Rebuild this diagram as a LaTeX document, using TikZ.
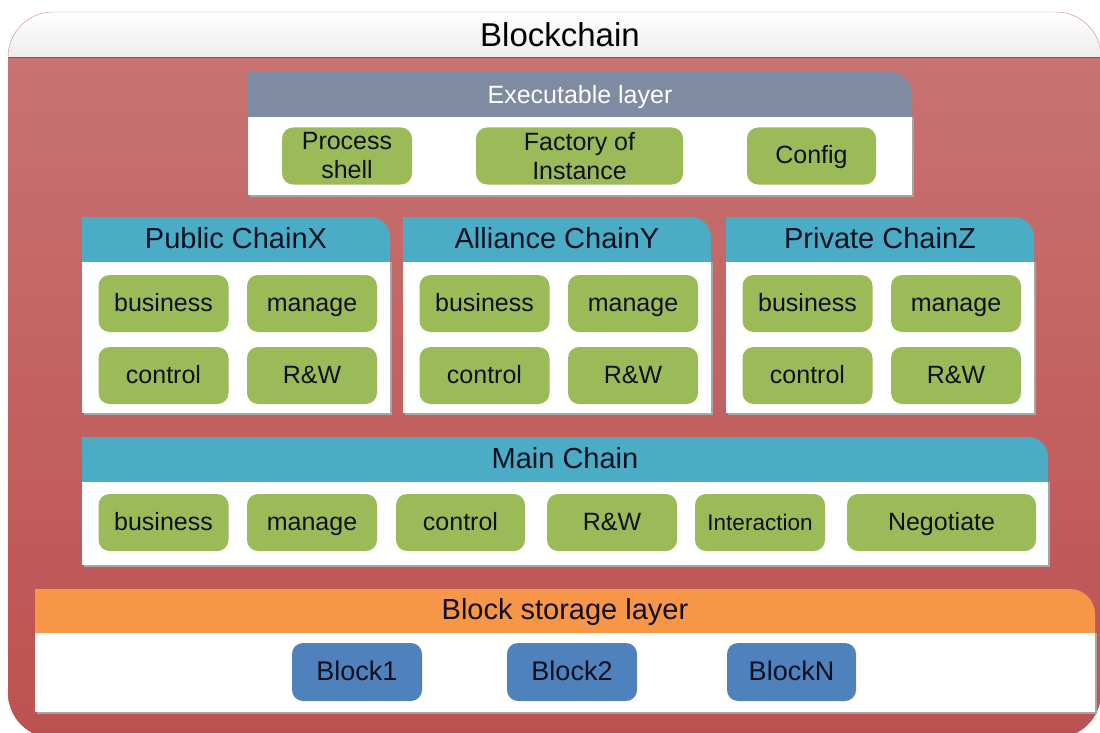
\documentclass[tikz,border=0pt]{standalone}
\usepackage{fontspec}
\setmainfont{Liberation Sans}
\usepackage{xcolor}
\usetikzlibrary{calc,shapes,positioning}

\definecolor{redtop}{HTML}{C87272}
\definecolor{redbot}{HTML}{BD5151}
\definecolor{rim}{HTML}{C3868B}
\definecolor{slate}{HTML}{7F8AA3}
\definecolor{tealhead}{HTML}{4BACC6}
\definecolor{orangehead}{HTML}{F79646}
\definecolor{leaf}{HTML}{9BBB59}
\definecolor{blockblue}{HTML}{4F81BD}
\definecolor{ink}{HTML}{101020}

% panel: x0, y0, x1, y1, header bottom, header colour, corner radius
\newcommand{\panelbox}[7]{%
  \fill[black!35] (#1+2,#5) rectangle (#3+2,#4+2);
  \fill[#6, rounded corners=#7pt] (#1,#2) rectangle (#3,#5+30);
  \fill[#6] (#1,#2) rectangle (#3-30,#5);
  \fill[white] (#1,#5) rectangle (#3,#4);
}

\begin{document}
\begin{tikzpicture}[x=1pt, y=-1pt]
      \tikzstyle{gnode} = [fill=leaf, rounded corners=11pt, minimum width=130pt, minimum height=57pt, inner sep=2pt, text height=20pt, text depth=4pt, text=ink, font=\fontsize{25}{29}\selectfont]
      \tikzstyle{gnodetwo} = [fill=leaf, rounded corners=11pt, minimum width=130pt, minimum height=57pt, inner sep=2pt, align=center, text=ink, font=\fontsize{25}{29}\selectfont]
      \tikzstyle{bnode} = [fill=blockblue, rounded corners=11pt, minimum width=130pt, minimum height=58pt, inner sep=2pt, text height=21pt, text depth=5pt, text=ink, font=\fontsize{27}{30}\selectfont]
      \tikzstyle{headtxt} = [text=ink, text height=22pt, text depth=5pt, font=\fontsize{29}{32}\selectfont]

      \useasboundingbox (0,0) rectangle (1100,733);
      \clip (0,0) rectangle (1100,733);

      % outer frame
      \begin{scope}
        \clip[rounded corners=45pt] (8,12) rectangle (1101,738);
        \shade[top color=redtop, bottom color=redbot] (8,57) rectangle (1101,738);
        \shade[top color=white, bottom color=black!7] (8,12) rectangle (1101,57);
      \end{scope}
      \draw[rim, rounded corners=45pt] (8,57) -- (8,12) -- (1101,12) -- (1101,57);
      \draw[redbot!85!black] (8,57) -- (1101,57);
      \node[text=black, font=\fontsize{33}{36}\selectfont] (title) at (560,35) {Blockchain};

      % executable layer
      \panelbox{248}{72}{912}{195}{117}{slate}{22}
      \node[headtxt, text=white, font=\fontsize{25}{28}\selectfont] (exehead) at (580,95) {Executable layer};
      \node[gnodetwo] (shell) at (347,156) {Process\\shell};
      \node[gnodetwo, minimum width=207pt] (factory) at (579.5,156) {Factory of\\Instance};
      \node[gnode, minimum width=129pt] (config) at (811.5,156) {Config};

      % side chains
      \foreach \x/\nm/\ttl in {82/pub/Public ChainX, 403/ali/Alliance ChainY, 726/pri/Private ChainZ}{
        \panelbox{\x}{217}{\x+308}{413}{262}{tealhead}{20}
        \node[headtxt] (\nm-head) at (\x+154,240) {\ttl};
        \node[gnode] (\nm-bus) at (\x+81.5,303.5) {business};
        \node[gnode] (\nm-man) at (\x+230,303.5) {manage};
        \node[gnode] (\nm-con) at (\x+81.5,375.5) {control};
        \node[gnode] (\nm-rw) at (\x+230,375.5) {R\&W};
      }

      % main chain
      \panelbox{82}{437}{1048}{565}{482}{tealhead}{20}
      \node[headtxt] (mainhead) at (565,459.5) {Main Chain};
      \node[gnode] (m-bus) at (163.5,522.5) {business};
      \node[gnode] (m-man) at (312,522.5) {manage};
      \node[gnode, minimum width=129pt] (m-con) at (460.5,522.5) {control};
      \node[gnode] (m-rw) at (612,522.5) {R\&W};
      \node[gnode, font=\fontsize{22.5}{26}\selectfont] (m-int) at (760,522.5) {Interaction};
      \node[gnode, minimum width=189pt] (m-neg) at (941.5,522.5) {Negotiate};

      % block storage
      \panelbox{35}{589}{1095}{712}{633}{orangehead}{25}
      \node[headtxt] (storehead) at (565,611) {Block storage layer};
      \node[bnode] (blk1) at (357,672) {Block1};
      \node[bnode] (blk2) at (572,672) {Block2};
      \node[bnode, minimum width=129pt] (blkn) at (791.5,672) {BlockN};
\end{tikzpicture}
\end{document}
